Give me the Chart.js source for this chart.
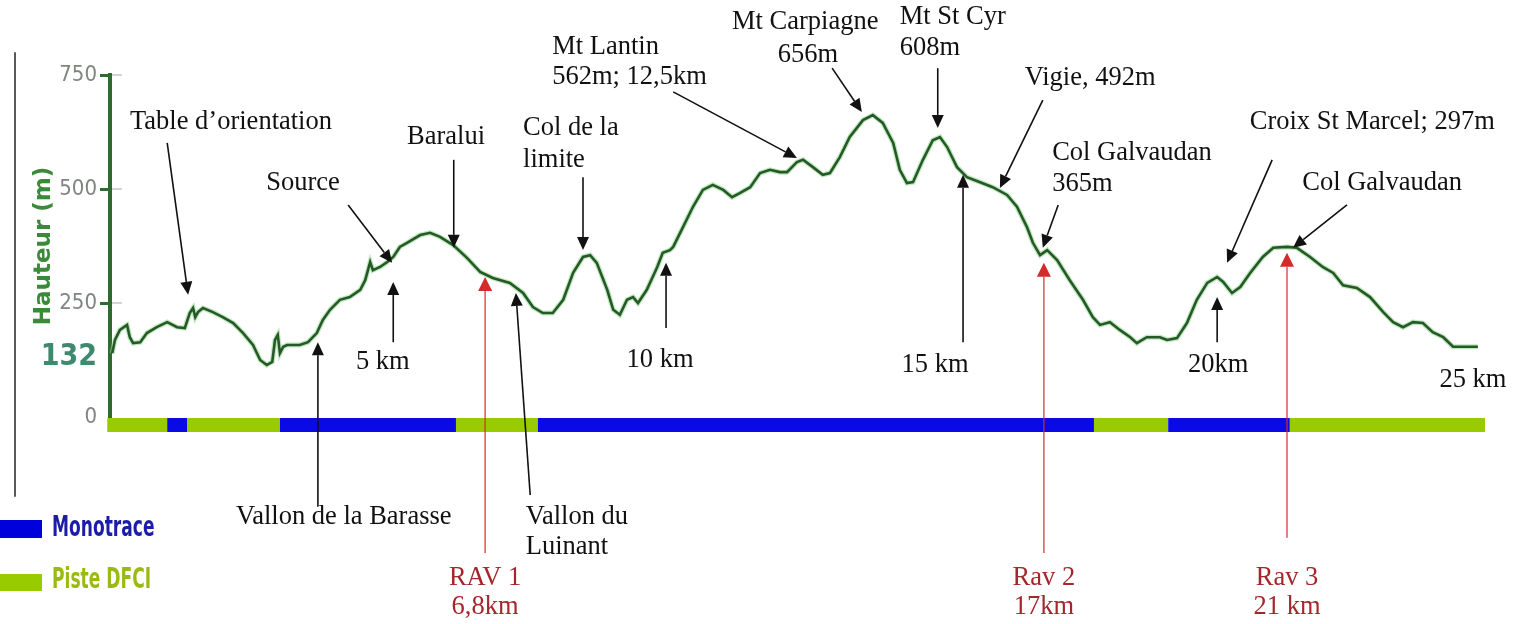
<!DOCTYPE html>
<html>
<head>
<meta charset="utf-8">
<script src="https://cdn.jsdelivr.net/npm/chart.js@4.4.0/dist/chart.umd.min.js"></script>
<style>
  html, body { margin: 0; padding: 0; background: #fff; }
  #wrap { width: 1526px; height: 624px; position: relative; }
</style>
</head>
<body>
<div id="wrap"><canvas id="profil"></canvas></div>
<script>
// profil altimetrique (km, m)
var distKm = [0.04,0.09,0.18,0.31,0.36,0.42,0.55,0.67,0.85,1.04,1.22,1.36,1.45,1.51,1.55,1.60,1.69,1.87,2.05,2.24,
  2.42,2.60,2.73,2.85,2.95,3.00,3.05,3.09,3.15,3.22,3.45,3.60,3.76,3.87,4.00,4.18,4.36,4.55,4.64,4.69,
  4.73,4.78,4.91,5.04,5.15,5.27,
  5.40,5.64,5.82,6.00,6.24,6.49,6.73,6.96,7.27,7.51,7.69,7.87,8.05,8.24,8.42,8.60,8.73,8.85,9.04,9.15,
  9.27,9.40,9.51,9.60,9.76,9.95,10.05,10.18,10.24,10.42,10.60,10.78,10.96,11.15,11.31,11.45,11.64,11.82,12.00,12.18,
  12.31,12.49,12.60,12.78,12.96,13.09,13.27,13.45,13.69,13.87,14.05,14.24,14.36,14.49,14.60,14.78,14.96,15.09,15.22,15.40,
  15.58,15.82,16.05,16.31,16.49,16.67,16.78,16.91,17.04,17.22,17.45,17.69,17.87,18.00,18.18,18.36,18.55,18.67,18.85,19.09,
  19.22,19.40,19.58,19.76,19.95,20.13,20.24,20.40,20.55,20.73,20.96,21.15,21.40,21.58,21.82,22.05,22.24,22.42,22.67,22.91,
  23.15,23.33,23.51,23.69,23.87,24.05,24.24,24.42,24.67,24.87];
var altitude = [140,169,191,202,175,162,164,184,197,208,197,195,228,239,219,230,239,230,219,206,
  184,158,125,114,121,169,180,140,154,158,158,164,184,213,235,257,263,279,300,322,
  340,322,329,340,351,373,
  382,399,404,395,377,349,318,305,294,272,241,228,228,257,316,351,355,338,279,235,
  224,257,263,250,279,329,360,366,373,417,461,498,509,498,482,491,504,535,542,537,
  537,559,564,548,531,535,570,614,651,662,645,601,542,513,515,564,607,614,592,548,
  526,515,504,487,461,417,382,355,366,344,300,257,219,202,208,191,175,162,175,175,
  169,173,206,257,294,307,296,272,285,316,351,371,373,371,351,329,316,289,283,263,
  230,208,197,208,206,186,175,154,154,154];

var yTicks = [0, 132, 250, 500, 750];

// type de chemin entre deux bornes (km)
var trackBreaks = [-0.05, 1.04, 1.40, 3.09, 6.29, 7.78, 17.89, 19.24, 21.45, 25.0];
var trackTypes = ['piste', 'mono', 'piste', 'mono', 'piste', 'mono', 'piste', 'mono', 'piste'];

// fleches noires : [km, m] depart -> [km, m] pointe
var pointers = [
  {from: [1.04, 601], to: [1.42, 268]},
  {from: [4.33, 465], to: [5.13, 338]},
  {from: [5.15, 164], to: [5.15, 296]},
  {from: [6.25, 564], to: [6.25, 371]},
  {from: [8.60, 526], to: [8.60, 366]},
  {from: [10.11, 195], to: [10.11, 338]},
  {from: [7.64, -171], to: [7.38, 272]},
  {from: [3.78, -197], to: [3.78, 164]},
  {from: [10.24, 713], to: [12.49, 568]},
  {from: [13.13, 765], to: [13.67, 669]},
  {from: [15.05, 765], to: [15.05, 634]},
  {from: [15.51, 164], to: [15.51, 531]},
  {from: [16.96, 695], to: [16.18, 502]},
  {from: [17.24, 465], to: [16.96, 371]},
  {from: [21.13, 564], to: [20.31, 338]},
  {from: [20.13, 164], to: [20.13, 263]},
  {from: [22.49, 465], to: [21.51, 371]}
];
// ravitaillements
var ravKm = [6.82, 16.98, 21.40];
var ravBottom = [-298, -298, -265];
var ravTop = [307, 338, 360];
var ravNames = ['RAV 1', 'Rav 2', 'Rav 3'];
var ravDist = ['6,8km', '17km', '21 km'];

// textes : km, m, alignement
var placeNames = [
  {t: 'Table d\u2019orientation', km: 2.20, m: 647, a: 'center'},
  {t: 'Source', km: 3.51, m: 513, a: 'center'},
  {t: 'Baralui', km: 6.11, m: 614, a: 'center'},
  {t: 'Col de la', km: 7.51, m: 634, a: 'left'},
  {t: 'limite', km: 7.51, m: 564, a: 'left'},
  {t: 'Mt Lantin', km: 8.04, m: 811, a: 'left'},
  {t: '562m; 12,5km', km: 8.04, m: 746, a: 'left'},
  {t: 'Mt Carpiagne', km: 12.64, m: 866, a: 'center'},
  {t: '656m', km: 12.69, m: 794, a: 'center'},
  {t: 'Mt St Cyr', km: 14.36, m: 877, a: 'left'},
  {t: '608m', km: 14.36, m: 809, a: 'left'},
  {t: 'Vigie, 492m', km: 17.82, m: 743, a: 'center'},
  {t: 'Col Galvaudan', km: 17.13, m: 579, a: 'left'},
  {t: '365m', km: 17.13, m: 511, a: 'left'},
  {t: 'Croix St Marcel; 297m', km: 22.95, m: 647, a: 'center'},
  {t: 'Col Galvaudan', km: 23.13, m: 513, a: 'center'},
  {t: 'Vallon de la Barasse', km: 4.25, m: -219, a: 'center'},
  {t: 'Vallon du', km: 7.56, m: -219, a: 'left'},
  {t: 'Luinant', km: 7.56, m: -285, a: 'left'}
];
var kmMarks = [
  {t: '5 km', km: 4.96, m: 121},
  {t: '10 km', km: 10.00, m: 125},
  {t: '15 km', km: 15.00, m: 114},
  {t: '20km', km: 20.15, m: 114},
  {t: '25 km', km: 24.78, m: 81}
];

var TRACK_Y = -17.5;
var GREEN_AXIS = '#2d6b30';
var SERIF = '26.5px "Liberation Serif", "Times New Roman", serif';

function trackData(type) {
  var pts = [];
  for (var i = 0; i < trackTypes.length; i++) {
    if (trackTypes[i] !== type) continue;
    pts.push({x: trackBreaks[i], y: TRACK_Y});
    pts.push({x: trackBreaks[i + 1], y: TRACK_Y});
    pts.push({x: trackBreaks[i + 1], y: null});
  }
  return pts;
}

var profil = [];
for (var i = 0; i < distKm.length; i++) {
  profil.push({x: distKm[i], y: altitude[i]});
}

function drawArrow(ctx, x1, y1, x2, y2, color, lw, hl, hw) {
  var ang = Math.atan2(y2 - y1, x2 - x1);
  var bx = x2 - Math.cos(ang) * hl, by = y2 - Math.sin(ang) * hl;
  ctx.strokeStyle = color;
  ctx.fillStyle = color;
  ctx.lineWidth = lw;
  ctx.beginPath();
  ctx.moveTo(x1, y1);
  ctx.lineTo(bx, by);
  ctx.stroke();
  ctx.beginPath();
  ctx.moveTo(x2, y2);
  ctx.lineTo(bx + Math.sin(ang) * hw, by - Math.cos(ang) * hw);
  ctx.lineTo(bx - Math.sin(ang) * hw, by + Math.cos(ang) * hw);
  ctx.closePath();
  ctx.fill();
}

var annotate = {
  id: 'annotate',
  afterDatasetsDraw: function(chart) {
    var ctx = chart.ctx;
    var xs = chart.scales.x, ys = chart.scales.y;
    var px = function(v) { return xs.getPixelForValue(v); };
    var py = function(v) { return ys.getPixelForValue(v); };
    ctx.save();

    // petite graduation a droite de l'axe
    ctx.strokeStyle = '#cfd8cf';
    ctx.lineWidth = 2;
    [250, 500, 750].forEach(function(v) {
      ctx.beginPath();
      ctx.moveTo(chart.chartArea.left + 2, py(v));
      ctx.lineTo(chart.chartArea.left + 12, py(v));
      ctx.stroke();
    });

    // trait vertical a gauche
    ctx.strokeStyle = '#222';
    ctx.lineWidth = 1.5;
    ctx.beginPath();
    ctx.moveTo(15, py(800));
    ctx.lineTo(15, py(-175));
    ctx.stroke();

    pointers.forEach(function(p) {
      drawArrow(ctx, px(p.from[0]), py(p.from[1]), px(p.to[0]), py(p.to[1]), '#111', 1.6, 13, 6);
    });
    for (var r = 0; r < ravKm.length; r++) {
      drawArrow(ctx, px(ravKm[r]), py(ravBottom[r]), px(ravKm[r]), py(ravTop[r]), '#d42a2a', 1.2, 14, 7);
    }

    ctx.font = SERIF;
    ctx.textBaseline = 'middle';
    ctx.fillStyle = '#111';
    placeNames.forEach(function(l) {
      ctx.textAlign = l.a;
      ctx.fillText(l.t, px(l.km), py(l.m));
    });
    ctx.textAlign = 'center';
    kmMarks.forEach(function(l) {
      ctx.fillText(l.t, px(l.km), py(l.m));
    });
    ctx.fillStyle = '#a3282c';
    for (var k = 0; k < ravKm.length; k++) {
      ctx.fillText(ravNames[k], px(ravKm[k]), py(-353));
      ctx.fillText(ravDist[k], px(ravKm[k]), py(-417));
    }

    // legende
    ctx.fillStyle = '#0000dd';
    ctx.fillRect(0, 520, 42, 18);
    ctx.fillStyle = '#99cc00';
    ctx.fillRect(0, 574, 42, 17);
    ctx.font = 'bold 19px "DejaVu Sans Condensed", "DejaVu Sans", sans-serif';
    ctx.textAlign = 'left';
    ctx.textBaseline = 'middle';
    ctx.save();
    ctx.translate(52, 529);
    ctx.scale(1, 1.5);
    ctx.fillStyle = '#1c1ca8';
    ctx.fillText('Monotrace', 0, 0);
    ctx.restore();
    ctx.save();
    ctx.translate(52, 581);
    ctx.scale(1, 1.5);
    ctx.fillStyle = '#99bb11';
    ctx.fillText('Piste DFCI', 0, 0);
    ctx.restore();

    ctx.restore();
  }
};

var ctx = document.getElementById('profil');
var chart = new Chart(ctx, {
  type: 'line',
  data: {
    datasets: [
      // le premier jeu est dessine en dernier (au-dessus)
      {
        data: profil,
        borderColor: '#255a26',
        borderWidth: 2.6,
        pointRadius: 0,
        tension: 0,
        clip: false
      },
      {
        data: profil,
        borderColor: 'rgba(150, 215, 150, 0.6)',
        borderWidth: 5,
        pointRadius: 0,
        tension: 0,
        clip: false
      },
      {
        data: trackData('mono'),
        borderColor: '#0a0ae6',
        borderWidth: 14,
        borderCapStyle: 'butt',
        pointRadius: 0,
        spanGaps: false,
        clip: false
      },
      {
        data: trackData('piste'),
        borderColor: '#99cc00',
        borderWidth: 14,
        borderCapStyle: 'butt',
        pointRadius: 0,
        spanGaps: false,
        clip: false
      }
    ]
  },
  options: {
    responsive: true,
    maintainAspectRatio: false,
    animation: false,
    layout: { padding: { left: 0, right: 8, top: 75, bottom: 207 } },
    plugins: { legend: { display: false }, tooltip: { enabled: false } },
    scales: {
      x: { type: 'linear', min: 0, max: 25.6, display: false },
      y: {
        min: 0,
        max: 750,
        afterBuildTicks: function(s) {
          s.ticks = yTicks.map(function(v) { return {value: v}; });
        },
        afterFit: function(s) { s.width = 110; },
        border: { display: true, color: GREEN_AXIS, width: 4 },
        grid: {
          drawOnChartArea: false,
          tickLength: 10,
          tickWidth: 3,
          tickColor: function(c) {
            var v = c.tick ? c.tick.value : 0;
            return (v === 250 || v === 500 || v === 750) ? GREEN_AXIS : 'rgba(0,0,0,0)';
          }
        },
        ticks: {
          padding: 3,
          autoSkip: false,
          callback: function(v) { return String(v); },
          color: function(c) {
            return c.tick && c.tick.value === 132 ? '#3d8a6e' : '#808580';
          },
          font: function(c) {
            if (c.tick && c.tick.value === 132) {
              return { family: '"Liberation Sans Narrow", "DejaVu Sans Condensed", sans-serif', size: 30, weight: 'bold' };
            }
            return { family: '"DejaVu Sans Condensed", "Liberation Sans", sans-serif', size: 22 };
          }
        },
        title: {
          display: true,
          text: 'Hauteur (m)',
          color: '#3a8a3a',
          font: { family: '"DejaVu Sans", sans-serif', size: 23, weight: 'bold' },
          padding: { top: 30, bottom: 0 }
        }
      }
    }
  },
  plugins: [annotate]
});
</script>
</body>
</html>
